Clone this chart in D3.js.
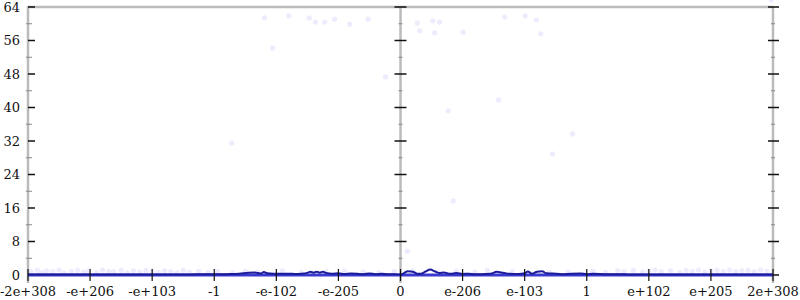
<!DOCTYPE html>
<html><head><meta charset="utf-8">
<script src="https://cdn.jsdelivr.net/npm/d3@7/dist/d3.min.js"></script>
<style>body{margin:0;background:#fff}svg{display:block}</style>
</head><body><svg id="c" width="800" height="300"></svg>
<script>
const xTickIdx = [-6,-5,-4,-3,-2,-1,0,1,2,3,4,5,6];
const xTickLabels = ["-2e+308","-e+206","-e+103","-1","-e-102","-e-205","0","e-206","e-103","1","e+102","e+205","2e+308"];
const yMajor = [0,8,16,24,32,40,48,56,64];
const yMinor = [4,12,20,28,36,44,52,60];
// line (density) values
const lineX = [-6,-5,-4,-3.4,-3.2,-3,-2.8,-2.6,-2.45,-2.35,-2.25,-2.2,-2.15,-2.05,-1.95,-1.8,-1.7,-1.6,-1.5,-1.45,-1.4,-1.35,-1.3,-1.25,-1.2,-1.1,-1,-0.9,-0.8,-0.7,-0.6,-0.5,-0.4,-0.3,-0.2,-0.1,0,0.05,0.12,0.2,0.27,0.33,0.4,0.48,0.55,0.62,0.7,0.8,0.9,1,1.1,1.2,1.3,1.45,1.55,1.65,1.75,1.9,2.0,2.05,2.12,2.2,2.28,2.35,2.45,2.6,2.75,2.9,3.0,3.1,3.3,3.6,4,5,6];
const lineY = [0.1,0.1,0.1,0.1,0.2,0.15,0.2,0.3,0.55,0.6,0.35,0.7,0.4,0.3,0.3,0.3,0.25,0.3,0.5,0.75,0.55,0.8,0.55,0.8,0.5,0.3,0.4,0.25,0.35,0.3,0.2,0.35,0.2,0.3,0.15,0.2,0.1,0.4,0.9,0.8,0.3,0.3,0.8,1.3,0.9,0.5,0.6,0.3,0.45,0.25,0.3,0.2,0.2,0.3,0.75,0.55,0.3,0.25,0.4,0.85,0.3,0.8,0.9,0.4,0.35,0.2,0.3,0.35,0.2,0.3,0.2,0.15,0.1,0.1,0.1];
// scatter samples
const ptX = [-2.19,-1.80,-1.47,-1.37,-1.22,-1.06,-0.82,-0.52,-2.06,-0.24,-2.72,0.27,0.52,0.63,0.31,0.55,1.01,1.68,2.01,2.19,2.26,1.58,0.77,2.77,2.45,0.85,0.11,
 -5.95,-5.85,-5.78,-5.7,-5.6,-5.5,-5.42,-5.3,-5.2,-5.1,-5.02,-4.9,-4.8,-4.7,-4.62,-4.5,-4.4,-4.3,-4.2,-4.1,-4.0,-3.9,-3.8,-3.7,-3.6,-3.5,-3.4,-3.25,-3.1,-2.95,-2.7,-2.5,-2.3,-1.9,-1.6,-1.2,-0.9,-0.6,-0.35,-0.1,
 0.2,0.6,0.9,1.2,1.4,1.8,2.4,2.7,3.1,3.3,3.5,3.6,3.75,3.9,4.0,4.1,4.2,4.35,4.5,4.6,4.7,4.8,4.9,5.0,5.1,5.2,5.3,5.4,5.5,5.6,5.7,5.8,5.9,5.97];
const ptY = [61.4,61.9,61.4,60.4,60.4,61.1,59.9,61.1,54.2,47.3,31.5,60.2,60.7,60.4,58.3,57.8,58.0,61.6,61.9,60.9,57.6,41.8,39.2,33.7,28.9,17.7,5.7,
 0.9,1.1,0.6,1.0,0.8,1.2,0.5,0.9,1.1,0.7,1.0,0.6,1.2,0.9,0.8,1.1,0.5,1.0,0.7,1.1,0.9,0.6,1.0,0.8,0.5,1.1,0.7,0.9,0.6,0.8,0.5,0.9,0.7,1.0,0.6,0.8,0.9,0.7,0.5,
 0.8,1.0,0.6,0.9,0.7,1.1,0.8,0.6,0.7,0.9,0.6,1.0,0.8,1.1,0.7,0.9,1.2,0.8,1.0,0.6,1.1,0.9,1.2,0.7,1.0,1.1,0.8,1.2,0.9,1.0,1.1,0.8,1.2,0.9];

const svg = d3.select("#c");
const x = d3.scaleLinear().domain([-6,6]).range([28,773]);
const y = d3.scaleLinear().domain([0,64]).range([275,7]);
const font = "DejaVu Serif";

// frame
svg.append("line").attr("x1",x(-6)).attr("x2",x(6)).attr("y1",y(64)).attr("y2",y(64)).attr("stroke","#bbb").attr("stroke-width",2.5);
[-6,0,6].forEach(v=>{
  svg.append("line").attr("x1",x(v)).attr("x2",x(v)).attr("y1",y(64)-1).attr("y2",283).attr("stroke","#bbb").attr("stroke-width",2.5);
});

// scatter
svg.append("g").selectAll("circle").data(ptX.map((d,i)=>[d,ptY[i]])).join("circle")
  .attr("cx",d=>x(d[0])).attr("cy",d=>y(d[1])).attr("r",2.6)
  .attr("fill","#c8c8f8").attr("fill-opacity",0.35);

// y ticks
const yTick = (xpos, a, b, vals, col, w) => {
  svg.append("g").selectAll("line").data(vals).join("line")
    .attr("x1",xpos+a).attr("x2",xpos+b).attr("y1",d=>y(d)).attr("y2",d=>y(d))
    .attr("stroke",col).attr("stroke-width",w);
};
yTick(x(-6),0,7,yMajor,"#111",1.5);
yTick(x(-6),-2,4,yMinor,"#888",1);
yTick(x(0),-6,6,yMajor,"#111",1.5);
yTick(x(0),-2,2,yMinor,"#888",1);
yTick(x(6),-5,6,yMajor,"#111",1.5);
yTick(x(6),-2,2,yMinor,"#888",1);

svg.append("g").selectAll("text").data(yMajor).join("text")
  .attr("x",20).attr("y",d=>y(d)).attr("dy","0.35em").attr("text-anchor","end")
  .attr("font-family",font).attr("font-size",13).attr("fill","#111").text(d=>d);

// line
const line = d3.line().x((d,i)=>x(lineX[i])).y(d=>y(d)).curve(d3.curveMonotoneX);
svg.append("line").attr("x1",x(-6)).attr("x2",x(6)).attr("y1",y(0)).attr("y2",y(0)).attr("stroke","#3a3ad0").attr("stroke-width",3);
svg.append("path").datum(lineY).attr("d",line).attr("fill","none").attr("stroke","#1c1c9a").attr("stroke-width",2);

// x ticks
svg.append("g").selectAll("line").data(xTickIdx).join("line")
  .attr("x1",d=>x(d)).attr("x2",d=>x(d)).attr("y1",269).attr("y2",281)
  .attr("stroke","#111").attr("stroke-width",1.2);
svg.append("g").selectAll("text").data(xTickIdx).join("text")
  .attr("x",d=>x(d)).attr("y",296).attr("text-anchor","middle")
  .attr("font-family",font).attr("font-size",13).attr("fill","#111").text((d,i)=>xTickLabels[i]);
</script></body></html>
